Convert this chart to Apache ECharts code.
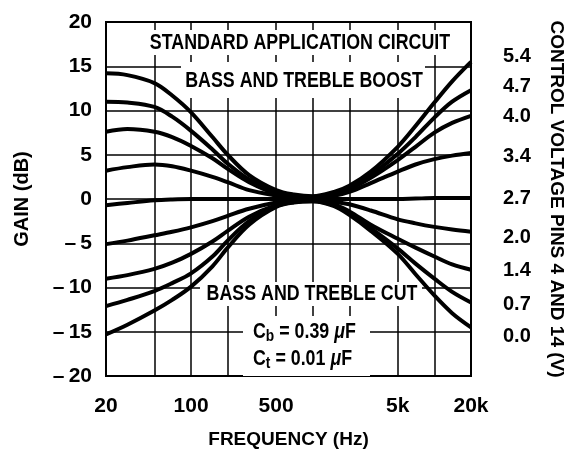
<!DOCTYPE html>
<html>
<head>
<meta charset="utf-8">
<script src="https://cdn.jsdelivr.net/npm/echarts@6/dist/echarts.min.js"></script>
<style>
  html, body { margin: 0; padding: 0; background: #fff; }
  #main { width: 574px; height: 454px; }
</style>
</head>
<body>
<div id="main"></div>
<script>
// frequency points (Hz)
var freqs = [20, 30, 50, 70, 100, 150, 200, 300, 500, 700, 1000, 1500, 2000, 3000, 5000, 7000, 10000, 14000, 20000];
// control voltage of each curve (V), top to bottom
var volts = ['5.4', '4.7', '4.0', '3.4', '2.7', '2.0', '1.4', '0.7', '0.0'];
// gain (dB) for each curve at the freqs above
var g54 = [14.2, 14.0, 13.1, 11.7, 9.8, 7.0, 5.0, 2.7, 1.0, 0.5, 0.3, 0.8, 1.5, 3.1, 5.9, 8.25, 10.9, 13.3, 15.5];
var g47 = [11.0, 10.9, 10.4, 9.3, 7.7, 5.6, 4.0, 2.2, 0.8, 0.35, 0.25, 0.7, 1.3, 2.7, 5.1, 7.0, 9.2, 11.0, 12.3];
var g40 = [7.6, 7.9, 7.6, 7.0, 6.0, 4.6, 3.4, 1.9, 0.6, 0.3, 0.2, 0.6, 1.1, 2.4, 4.4, 5.9, 7.5, 8.6, 9.4];
var g34 = [3.2, 3.6, 3.9, 3.7, 3.2, 2.5, 1.9, 1.0, 0.4, 0.15, 0.1, 0.35, 0.8, 1.8, 3.1, 3.9, 4.5, 4.9, 5.2];
var g27 = [-0.7, -0.45, -0.15, -0.05, 0, 0, 0, 0, 0, 0, 0, 0, 0, 0, 0, 0.05, 0.1, 0.1, 0.1];
var g20 = [-5.1, -4.7, -4.1, -3.7, -3.2, -2.5, -1.9, -1.1, -0.4, -0.15, -0.1, -0.3, -0.6, -1.3, -2.3, -2.75, -3.15, -3.45, -3.7];
var g14 = [-9.0, -8.6, -7.9, -7.2, -6.2, -4.8, -3.6, -2.0, -0.7, -0.3, -0.2, -0.6, -1.4, -2.9, -4.5, -5.5, -6.5, -7.4, -8.0];
var g07 = [-12.1, -11.4, -10.4, -9.5, -8.4, -6.5, -4.7, -2.5, -0.8, -0.35, -0.25, -0.7, -1.6, -3.3, -5.6, -7.3, -9.0, -10.5, -11.7];
var g00 = [-15.3, -14.2, -12.6, -11.4, -9.9, -7.6, -5.5, -2.9, -0.9, -0.4, -0.25, -0.8, -1.8, -3.6, -6.2, -8.5, -10.9, -12.9, -14.5];
var gains = [g54, g47, g40, g34, g27, g20, g14, g07, g00];

// axis ticks
var gridFreqs = [50, 100, 200, 500, 1000, 2000, 5000, 10000];
var freqLabels = [20, 100, 500, 5000, 20000];

// vertical nudge of the voltage labels at the right end (px)
var labelNudge = [-5, -4, 1, 4, 0, 6, 1, 2, 9];

var FONT = '"Liberation Sans", Arial, sans-serif';

function pairs(g) {
    var d = [];
    for (var i = 0; i < freqs.length; i++) {
        d.push([freqs[i], g[i]]);
    }
    return d;
}

function fmtFreq(v) {
    if (v >= 1000) return (v / 1000) + 'k';
    return '' + v;
}

var series = [];
// vertical grid lines (decade steps 1-2-5), kept under the text boxes
series.push({
    type: 'line',
    data: [],
    z: 1,
    silent: true,
    markLine: {
        z: 1,
        silent: true,
        symbol: 'none',
        label: { show: false },
        lineStyle: { color: '#000', width: 1.5, type: 'solid' },
        data: gridFreqs.map(function (f) { return { xAxis: f }; })
    }
});
for (var k = 0; k < gains.length; k++) {
    series.push({
        name: volts[k],
        type: 'line',
        data: pairs(gains[k]),
        smooth: 0.35,
        symbol: 'none',
        z: 5,
        lineStyle: { color: '#000', width: 4 },
        endLabel: {
            show: true,
            formatter: volts[k],
            distance: 32,
            offset: [0, labelNudge[k]],
            color: '#000',
            fontFamily: FONT,
            fontWeight: 'bold',
            fontSize: 20
        }
    });
}

// condensed bold lettering inside the plot: squeeze wide glyphs horizontally
var SQUEEZE = 0.81;
function box(x, y, w, h) {
    return { type: 'rect', z: 3, silent: true, shape: { x: x, y: y, width: w, height: h }, style: { fill: '#fff' } };
}
function label(txt, x, y, rich, align) {
    var st = {
        text: txt, x: 0, y: 0, align: align || 'center', verticalAlign: 'middle',
        fontFamily: FONT, fontWeight: 'bold', fontSize: 22, fill: '#000'
    };
    if (rich) st.rich = rich;
    return { type: 'text', z: 4, silent: true, x: x, y: y, scaleX: SQUEEZE, style: st };
}
var capRich = {
    n: { fontFamily: FONT, fontWeight: 'bold', fontSize: 22 },
    s: { fontFamily: FONT, fontWeight: 'bold', fontSize: 17, padding: [9, 0, 0, 0] },
    m: { fontFamily: FONT, fontWeight: 'bold', fontStyle: 'italic', fontSize: 22 }
};

var option = {
    backgroundColor: '#fff',
    animation: false,
    grid: {
        left: 106, right: 94, top: 22, bottom: 77,
        show: true, borderColor: '#000', borderWidth: 2, backgroundColor: 'transparent'
    },
    xAxis: {
        type: 'log',
        logBase: 10,
        min: 20,
        max: 20000,
        name: 'FREQUENCY (Hz)',
        nameLocation: 'middle',
        nameGap: 54,
        nameTextStyle: { color: '#000', fontFamily: FONT, fontWeight: 'bold', fontSize: 19 },
        axisLine: { show: false },
        axisTick: { show: false },
        splitLine: { show: false },
        axisLabel: {
            customValues: freqLabels,
            formatter: fmtFreq,
            margin: 20,
            color: '#000', fontFamily: FONT, fontWeight: 'bold', fontSize: 21
        }
    },
    yAxis: [{
        type: 'value',
        min: -20,
        max: 20,
        interval: 5,
        name: 'GAIN (dB)',
        nameLocation: 'middle',
        nameGap: 74,
        nameRotate: 90,
        nameTextStyle: { color: '#000', fontFamily: FONT, fontWeight: 'bold', fontSize: 20 },
        axisLine: { show: false },
        axisTick: { show: false },
        splitLine: { show: true, lineStyle: { color: '#000', width: 1.5 } },
        axisLabel: {
            margin: 14,
            color: '#000', fontFamily: FONT, fontWeight: 'bold', fontSize: 21,
            formatter: function (v) { return v < 0 ? '\u2013\u2009' + Math.abs(v) : '' + v; }
        }
    }, {
        type: 'value',
        min: -20,
        max: 20,
        position: 'right',
        name: 'CONTROL VOLTAGE PINS 4 AND 14 (V)',
        nameLocation: 'middle',
        nameGap: 76,
        nameRotate: -90,
        nameTextStyle: { color: '#000', fontFamily: FONT, fontWeight: 'bold', fontSize: 19 },
        axisLine: { show: false },
        axisTick: { show: false },
        axisLabel: { show: false },
        splitLine: { show: false }
    }],
    graphic: {
        elements: [
            box(145, 30, 310, 25),
            label('STANDARD APPLICATION CIRCUIT', 300, 43),
            box(181, 62, 244, 36),
            label('BASS AND TREBLE BOOST', 304, 81),
            box(200, 282, 222, 24),
            label('BASS AND TREBLE CUT', 312, 294),
            box(243, 316, 127, 60),
            label('{n|C}{s|b}{n| = 0.39 }{m|\u03bc}{n|F}', 253, 332, capRich, 'left'),
            label('{n|C}{s|t}{n| = 0.01 }{m|\u03bc}{n|F}', 253, 359, capRich, 'left')
        ]
    },
    series: series
};

var chart = echarts.init(document.getElementById('main'));
chart.setOption(option);
</script>
</body>
</html>
